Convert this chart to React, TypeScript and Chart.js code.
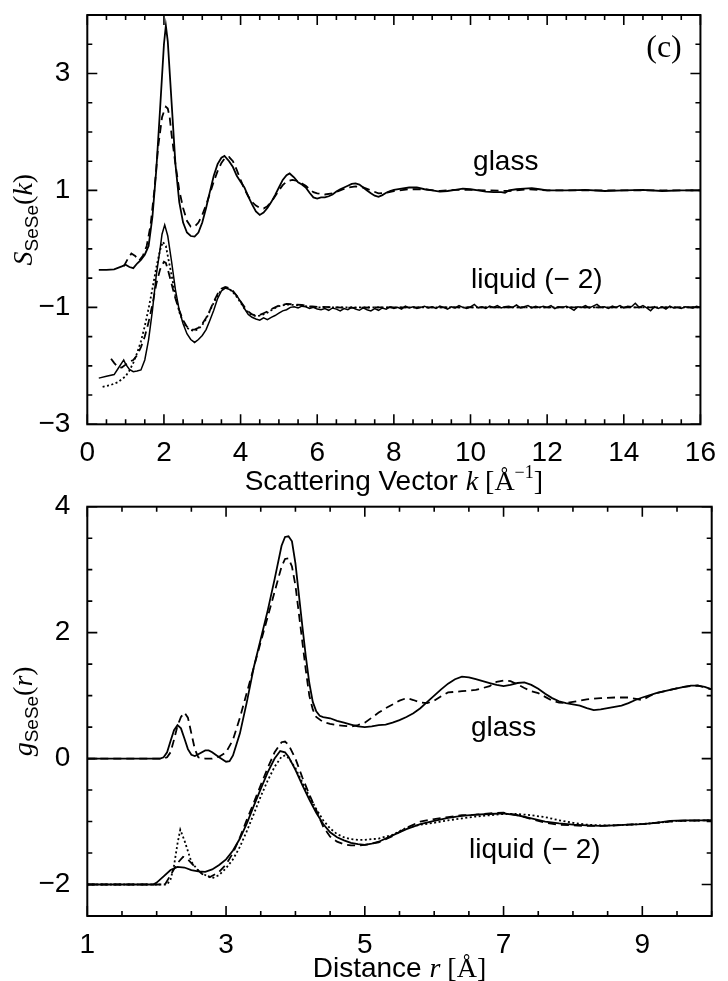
import React, { useEffect, useRef } from "react";
import { Chart, registerables } from "chart.js";
Chart.register(...registerables);

// ---------------- Top panel: S_SeSe(k) ----------------
const K_TICK_LABELS = [0, 2, 4, 6, 8, 10, 12, 14, 16];
const S_TICK_LABELS = [-3, -1, 1, 3];

const K_GLASS_SOLID = [0.3, 0.5, 0.7, 0.9, 1.0, 1.1, 1.2, 1.3, 1.4, 1.5, 1.6, 1.7, 1.8, 1.9, 2.0, 2.05, 2.1, 2.2, 2.3, 2.4, 2.5, 2.6, 2.7, 2.8, 2.9, 3.0, 3.1, 3.2, 3.3, 3.4, 3.5, 3.58, 3.7, 3.8, 3.9, 4.0, 4.1, 4.2, 4.3, 4.4, 4.5, 4.6, 4.7, 4.8, 4.9, 5.0, 5.1, 5.2, 5.28, 5.4, 5.5, 5.6, 5.7, 5.8, 5.9, 6.0, 6.1, 6.2, 6.3, 6.4, 6.5, 6.6, 6.7, 6.8, 6.9, 7.0, 7.1, 7.2, 7.3, 7.4, 7.5, 7.6, 7.7, 7.8, 7.9, 8.0, 8.2, 8.4, 8.6, 8.8, 9.0, 9.2, 9.4, 9.6, 9.8, 10.0, 10.2, 10.4, 10.6, 10.8, 10.9, 11.0, 11.2, 11.4, 11.6, 11.8, 12.0, 12.5, 13.0, 13.5, 14.0, 14.5, 15.0, 15.5, 16.0];
const S_GLASS_SOLID = [-0.36, -0.36, -0.35, -0.30, -0.27, -0.31, -0.33, -0.25, -0.19, -0.10, 0.05, 0.55, 1.35, 2.40, 3.50, 3.82, 3.55, 2.50, 1.45, 0.80, 0.45, 0.28, 0.22, 0.21, 0.28, 0.45, 0.70, 0.98, 1.25, 1.45, 1.56, 1.59, 1.50, 1.40, 1.25, 1.15, 1.05, 0.90, 0.76, 0.64, 0.58, 0.62, 0.70, 0.80, 0.92, 1.05, 1.18, 1.26, 1.29, 1.22, 1.14, 1.10, 1.05, 0.96, 0.88, 0.86, 0.88, 0.88, 0.90, 0.93, 0.98, 1.02, 1.05, 1.08, 1.11, 1.12, 1.10, 1.05, 1.00, 0.95, 0.91, 0.89, 0.92, 0.96, 0.99, 1.01, 1.03, 1.05, 1.05, 1.02, 1.00, 0.98, 0.99, 1.01, 1.03, 1.02, 1.00, 0.98, 0.97, 0.97, 0.96, 1.00, 1.02, 1.03, 1.04, 1.02, 1.00, 1.00, 1.01, 0.99, 1.00, 1.01, 0.99, 1.00, 1.00];

const K_GLASS_DASHED = [0.95, 1.05, 1.15, 1.25, 1.35, 1.45, 1.55, 1.65, 1.75, 1.85, 1.95, 2.0, 2.05, 2.1, 2.15, 2.2, 2.3, 2.4, 2.5, 2.6, 2.7, 2.8, 2.9, 3.0, 3.1, 3.2, 3.3, 3.4, 3.5, 3.6, 3.7, 3.8, 3.9, 4.0, 4.1, 4.2, 4.3, 4.4, 4.5, 4.6, 4.7, 4.8, 4.9, 5.0, 5.1, 5.2, 5.35, 5.5, 5.6, 5.7, 5.8, 5.9, 6.0, 6.2, 6.4, 6.6, 6.8, 7.0, 7.2, 7.4, 7.6, 7.8, 8.0, 8.4, 8.8, 9.2, 9.6, 10.0, 10.5, 11.0, 11.5, 12.0, 13.0, 14.0, 15.0, 16.0];
const S_GLASS_DASHED = [-0.30, -0.18, -0.08, -0.12, -0.20, -0.12, 0.05, 0.40, 1.00, 1.75, 2.25, 2.35, 2.43, 2.40, 2.25, 1.95, 1.45, 1.00, 0.70, 0.48, 0.38, 0.38, 0.45, 0.58, 0.75, 0.95, 1.15, 1.33, 1.47, 1.56, 1.57, 1.50, 1.35, 1.18, 1.02, 0.90, 0.80, 0.74, 0.70, 0.69, 0.73, 0.80, 0.90, 1.00, 1.09, 1.15, 1.18, 1.16, 1.12, 1.08, 1.02, 0.97, 0.95, 0.93, 0.95, 1.00, 1.05, 1.07, 1.05, 1.00, 0.95, 0.96, 0.99, 1.02, 1.02, 0.99, 1.01, 1.01, 1.00, 0.99, 1.02, 1.00, 1.00, 1.00, 1.00, 1.00];

const K_LIQ_SOLID = [0.3, 0.5, 0.7, 0.8, 0.9, 0.95, 1.0, 1.1, 1.2, 1.3, 1.4, 1.5, 1.6, 1.7, 1.8, 1.9, 1.95, 2.02, 2.1, 2.2, 2.3, 2.4, 2.5, 2.6, 2.7, 2.8, 2.9, 3.0, 3.1, 3.2, 3.3, 3.4, 3.5, 3.6, 3.7, 3.8, 3.9, 4.0, 4.1, 4.2, 4.3, 4.4, 4.5, 4.6, 4.7, 4.8, 4.9, 5.0, 5.1, 5.2, 5.3, 5.4, 5.5, 5.6, 5.7, 5.8, 5.9, 6.0,
  6.1, 6.2, 6.3, 6.4, 6.5, 6.6, 6.7, 6.8, 6.9, 7.0, 7.1, 7.2, 7.3, 7.4, 7.5, 7.6, 7.7, 7.8, 7.9, 8.0, 8.1, 8.2, 8.3, 8.4, 8.5, 8.6, 8.7, 8.8, 8.9, 9.0, 9.1, 9.2, 9.3, 9.4, 9.5, 9.6, 9.7, 9.8, 9.9, 10.0,
  10.1, 10.2, 10.3, 10.4, 10.5, 10.6, 10.7, 10.8, 10.9, 11.0, 11.1, 11.2, 11.3, 11.4, 11.5, 11.6, 11.7, 11.8, 11.9, 12.0, 12.1, 12.2, 12.3, 12.4, 12.5, 12.6, 12.7, 12.8, 12.9, 13.0,
  13.1, 13.2, 13.3, 13.4, 13.5, 13.6, 13.7, 13.8, 13.9, 14.0, 14.1, 14.2, 14.3, 14.4, 14.5, 14.6, 14.7, 14.8, 14.9, 15.0, 15.1, 15.2, 15.3, 15.4, 15.5, 15.6, 15.7, 15.8, 15.9, 16.0];
const S_LIQ_SOLID = [-2.21, -2.18, -2.15, -2.05, -1.95, -1.90, -1.97, -2.06, -2.10, -2.09, -2.07, -1.90, -1.55, -1.05, -0.45, 0.00, 0.25, 0.41, 0.22, -0.22, -0.70, -1.05, -1.28, -1.45, -1.55, -1.60, -1.55, -1.48, -1.38, -1.22, -1.05, -0.85, -0.72, -0.67, -0.69, -0.73, -0.80, -0.90, -1.02, -1.12, -1.17, -1.20, -1.22, -1.18, -1.21, -1.17, -1.14, -1.10, -1.06, -1.04, -1.00, -0.99, -1.01, -0.98, -0.99, -1.02, -1.00, -1.03,
  -1.04, -1.02, -1.05, -1.01, -1.03, -1.06, -1.02, -1.04, -1.00, -1.03, -1.05, -1.01, -1.04, -1.06, -1.02, -1.05, -1.01, -1.03, -0.99, -1.02, -1.00, -1.03, -0.98, -1.01, -0.99, -1.02, -1.00, -0.98, -1.01, -0.99, -1.02, -0.98, -1.00, -1.03, -0.99, -1.01, -0.97, -1.00, -1.02, -0.99,
  -0.95, -1.01, -0.99, -1.02, -0.98, -1.00, -0.97, -1.01, -0.99, -0.98, -1.00, -0.96, -1.01, -0.99, -0.97, -1.01, -0.98, -1.00, -0.98, -1.00, -0.97, -1.02, -0.99, -1.00, -0.98, -1.01, -1.05, -0.99, -1.00, -0.97,
  -1.01, -0.98, -0.95, -1.00, -0.99, -1.02, -0.98, -1.00, -0.97, -1.01, -0.98, -0.99, -0.93, -1.00, -0.97, -1.01, -1.06, -0.99, -1.02, -0.99, -1.03, -0.98, -1.01, -1.00, -1.02, -0.99, -1.00, -1.01, -0.98, -1.00];

const K_LIQ_DASHED = [0.62, 0.7, 0.8, 0.9, 1.0, 1.1, 1.2, 1.3, 1.4, 1.5, 1.6, 1.7, 1.8, 1.9, 2.0, 2.05, 2.1, 2.2, 2.3, 2.4, 2.5, 2.6, 2.7, 2.8, 2.9, 3.0, 3.1, 3.2, 3.3, 3.4, 3.5, 3.6, 3.7, 3.8, 3.9, 4.0, 4.1, 4.2, 4.3, 4.4, 4.5, 4.6, 4.7, 4.8, 4.9, 5.0, 5.2, 5.4, 5.6, 5.8, 6.0, 6.5, 7.0, 7.5, 8.0, 9.0, 10.0, 12.0, 14.0, 16.0];
const S_LIQ_DASHED = [-1.88, -1.95, -2.02, -2.03, -1.98, -1.93, -1.90, -1.82, -1.68, -1.50, -1.25, -0.95, -0.60, -0.35, -0.22, -0.24, -0.35, -0.60, -0.85, -1.05, -1.22, -1.33, -1.38, -1.38, -1.35, -1.28, -1.18, -1.05, -0.90, -0.77, -0.68, -0.65, -0.67, -0.72, -0.80, -0.90, -0.99, -1.07, -1.12, -1.14, -1.13, -1.10, -1.07, -1.03, -1.00, -0.97, -0.94, -0.95, -0.96, -0.98, -0.99, -1.00, -1.01, -1.00, -1.00, -1.00, -1.00, -1.00, -1.00, -1.00];

const K_LIQ_DOTTED = [0.4, 0.6, 0.8, 1.0, 1.1, 1.2, 1.3, 1.4, 1.5, 1.6, 1.7, 1.8, 1.9, 1.97, 2.05, 2.1, 2.2, 2.3, 2.4, 2.5, 2.6, 2.7, 2.8, 2.9, 3.0, 3.1, 3.2, 3.3, 3.4, 3.5, 3.6, 3.7, 3.8, 3.9, 4.0, 4.1, 4.2, 4.3, 4.4, 4.5, 4.6, 4.7, 4.8, 4.9, 5.0, 5.2, 5.4, 5.6, 5.8, 6.0, 7.0, 8.0, 9.0, 10.0, 12.0, 14.0, 16.0];
const S_LIQ_DOTTED = [-2.36, -2.33, -2.28, -2.18, -2.08, -1.95, -1.78, -1.58, -1.32, -1.02, -0.68, -0.32, -0.02, 0.12, 0.05, -0.12, -0.45, -0.80, -1.08, -1.25, -1.35, -1.39, -1.40, -1.37, -1.30, -1.20, -1.06, -0.92, -0.80, -0.70, -0.66, -0.68, -0.74, -0.82, -0.92, -1.02, -1.09, -1.13, -1.15, -1.14, -1.12, -1.09, -1.05, -1.01, -0.98, -0.95, -0.96, -0.97, -0.99, -1.00, -1.00, -1.00, -1.00, -1.00, -1.00, -1.00, -1.00];

// ---------------- Bottom panel: g_SeSe(r) ----------------
const R_TICK_LABELS = [1, 3, 5, 7, 9];
const G_TICK_LABELS = [-2, 0, 2, 4];

const R_GLASS_SOLID = [1.0, 2.0, 2.05, 2.1, 2.15, 2.2, 2.25, 2.3, 2.35, 2.4, 2.45, 2.5, 2.55, 2.6, 2.7, 2.75, 2.8, 2.9, 3.0, 3.05, 3.1, 3.2, 3.3, 3.4, 3.5, 3.6, 3.7, 3.8, 3.85, 3.9, 3.95, 4.0, 4.05, 4.1, 4.15, 4.2, 4.25, 4.3, 4.35, 4.4, 4.5, 4.6, 4.7, 4.8, 4.9, 5.0, 5.1, 5.2, 5.3, 5.4, 5.5, 5.6, 5.7, 5.8, 5.9, 6.0, 6.1, 6.2, 6.3, 6.4, 6.5, 6.6, 6.7, 6.8, 6.9, 7.0, 7.1, 7.2, 7.3, 7.4, 7.5, 7.6, 7.7, 7.8, 7.9, 8.0, 8.1, 8.2, 8.3, 8.4, 8.5, 8.6, 8.7, 8.8, 8.9, 9.0, 9.2, 9.4, 9.6, 9.7, 9.8, 9.9, 10.0];
const G_GLASS_SOLID = [0, 0, 0.0, 0.02, 0.10, 0.28, 0.45, 0.53, 0.48, 0.32, 0.15, 0.06, 0.04, 0.07, 0.13, 0.13, 0.10, 0.02, -0.05, -0.04, 0.05, 0.40, 0.90, 1.45, 1.90, 2.35, 2.85, 3.38, 3.52, 3.53, 3.45, 3.10, 2.60, 2.10, 1.62, 1.20, 0.90, 0.75, 0.68, 0.66, 0.64, 0.60, 0.57, 0.54, 0.51, 0.50, 0.51, 0.53, 0.54, 0.57, 0.61, 0.66, 0.72, 0.80, 0.90, 1.00, 1.10, 1.19, 1.26, 1.30, 1.29, 1.26, 1.23, 1.20, 1.17, 1.15, 1.17, 1.20, 1.21, 1.17, 1.11, 1.03, 0.96, 0.91, 0.88, 0.86, 0.84, 0.80, 0.77, 0.78, 0.80, 0.82, 0.84, 0.88, 0.93, 0.97, 1.04, 1.09, 1.14, 1.16, 1.16, 1.14, 1.10];

const R_GLASS_DASHED = [1.0, 2.1, 2.15, 2.2, 2.25, 2.3, 2.35, 2.4, 2.45, 2.5, 2.55, 2.6, 2.7, 2.8, 2.9, 3.0, 3.1, 3.2, 3.3, 3.4, 3.5, 3.6, 3.7, 3.8, 3.85, 3.9, 3.95, 4.0, 4.05, 4.1, 4.15, 4.2, 4.25, 4.3, 4.4, 4.5, 4.6, 4.7, 4.8, 4.9, 5.0, 5.1, 5.2, 5.3, 5.4, 5.5, 5.6, 5.7, 5.8, 5.9, 6.0, 6.1, 6.2, 6.4, 6.6, 6.8, 6.9, 7.0, 7.1, 7.2, 7.3, 7.4, 7.5, 7.6, 7.7, 7.8, 7.9, 8.0, 8.2, 8.4, 8.6, 8.8, 9.0, 9.1, 9.2, 9.4, 9.6, 9.8, 10.0];
const G_GLASS_DASHED = [0, 0, 0.02, 0.10, 0.30, 0.52, 0.66, 0.73, 0.65, 0.40, 0.15, 0.02, 0.0, 0.0, 0.03, 0.10, 0.30, 0.65, 1.05, 1.45, 1.85, 2.25, 2.65, 3.05, 3.17, 3.18, 3.05, 2.75, 2.30, 1.85, 1.40, 1.00, 0.78, 0.66, 0.58, 0.55, 0.53, 0.52, 0.51, 0.53, 0.57, 0.65, 0.73, 0.80, 0.86, 0.92, 0.96, 0.93, 0.89, 0.88, 0.92, 0.99, 1.05, 1.07, 1.09, 1.15, 1.22, 1.24, 1.23, 1.18, 1.12, 1.07, 1.04, 0.98, 0.92, 0.89, 0.88, 0.90, 0.94, 0.96, 0.97, 0.97, 0.93, 0.99, 1.04, 1.09, 1.14, 1.16, 1.10];

const R_LIQ_SOLID = [1.0, 1.95, 2.0, 2.1, 2.2, 2.3, 2.4, 2.5, 2.6, 2.7, 2.8, 2.9, 3.0, 3.1, 3.2, 3.3, 3.4, 3.5, 3.6, 3.7, 3.78, 3.85, 3.9, 4.0, 4.1, 4.2, 4.3, 4.4, 4.5, 4.6, 4.7, 4.8, 4.9, 5.0, 5.1, 5.2, 5.4, 5.6, 5.8, 6.0, 6.2, 6.4, 6.6, 6.8, 7.0, 7.2, 7.4, 7.6, 7.8, 8.0, 8.2, 8.4, 8.6, 8.8, 9.0, 9.2, 9.4, 9.6, 9.8, 10.0];
const G_LIQ_SOLID = [-2, -2, -1.97, -1.87, -1.77, -1.72, -1.73, -1.77, -1.79, -1.80, -1.76, -1.69, -1.60, -1.46, -1.27, -1.03, -0.75, -0.48, -0.22, 0.00, 0.12, 0.10, 0.03, -0.18, -0.42, -0.65, -0.86, -1.04, -1.17, -1.25, -1.30, -1.34, -1.36, -1.37, -1.35, -1.32, -1.22, -1.12, -1.04, -0.99, -0.94, -0.91, -0.89, -0.88, -0.87, -0.90, -0.95, -1.00, -1.03, -1.05, -1.06, -1.07, -1.06, -1.05, -1.04, -1.02, -0.99, -0.98, -0.98, -0.98];

const R_LIQ_DASHED = [1.0, 2.12, 2.2, 2.3, 2.38, 2.45, 2.55, 2.65, 2.77, 2.9, 3.0, 3.1, 3.2, 3.3, 3.4, 3.5, 3.6, 3.7, 3.8, 3.85, 3.9, 4.0, 4.1, 4.2, 4.3, 4.4, 4.5, 4.6, 4.7, 4.8, 4.9, 5.0, 5.2, 5.4, 5.6, 5.8, 6.0, 6.2, 6.4, 6.6, 6.8, 7.0, 7.2, 7.4, 7.6, 7.8, 8.0, 8.2, 8.4, 8.6, 8.8, 9.0, 9.5, 10.0];
const G_LIQ_DASHED = [-2, -2, -1.85, -1.66, -1.56, -1.60, -1.72, -1.83, -1.88, -1.80, -1.68, -1.50, -1.25, -0.97, -0.70, -0.42, -0.15, 0.10, 0.26, 0.27, 0.22, 0.0, -0.30, -0.57, -0.82, -1.08, -1.24, -1.32, -1.36, -1.38, -1.38, -1.37, -1.33, -1.23, -1.10, -1.00, -0.96, -0.93, -0.90, -0.89, -0.87, -0.86, -0.90, -0.96, -1.02, -1.05, -1.06, -1.07, -1.07, -1.06, -1.05, -1.04, -0.99, -0.98];

const R_LIQ_DOTTED = [1.0, 2.15, 2.2, 2.25, 2.3, 2.34, 2.4, 2.5, 2.6, 2.7, 2.8, 2.9, 3.0, 3.1, 3.2, 3.3, 3.4, 3.5, 3.6, 3.7, 3.8, 3.85, 3.9, 4.0, 4.1, 4.2, 4.3, 4.4, 4.5, 4.6, 4.7, 4.8, 4.9, 5.0, 5.2, 5.4, 5.6, 5.8, 6.0, 6.2, 6.4, 6.6, 6.8, 7.0, 7.2, 7.4, 7.6, 7.8, 8.0, 8.2, 8.4, 8.6, 8.8, 9.0, 9.5, 10.0];
const G_LIQ_DOTTED = [-2, -2, -1.92, -1.70, -1.35, -1.13, -1.30, -1.64, -1.78, -1.85, -1.90, -1.85, -1.74, -1.60, -1.40, -1.15, -0.88, -0.60, -0.35, -0.13, 0.03, 0.05, 0.01, -0.15, -0.38, -0.60, -0.80, -0.98, -1.11, -1.20, -1.25, -1.28, -1.29, -1.29, -1.27, -1.21, -1.10, -1.05, -1.02, -0.98, -0.95, -0.92, -0.90, -0.88, -0.88, -0.90, -0.93, -0.98, -1.02, -1.05, -1.06, -1.06, -1.05, -1.04, -0.99, -0.98];

// ---------------- helpers ----------------
const SANS = '"Liberation Sans", Arial, Helvetica, sans-serif';
const SERIF = '"Liberation Serif", "Times New Roman", serif';
const TICK_FONT = 28;

type Seg = { t: string; font: string; dy?: number };

function pts(xs: number[], ys: number[]) {
  return xs.map((x, i) => ({ x, y: ys[i] }));
}

function drawRich(ctx: CanvasRenderingContext2D, segs: Seg[], x: number, y: number) {
  let total = 0;
  for (const s of segs) {
    ctx.font = s.font;
    total += ctx.measureText(s.t).width;
  }
  let cx = x - total / 2;
  ctx.textAlign = "left";
  ctx.textBaseline = "alphabetic";
  for (const s of segs) {
    ctx.font = s.font;
    ctx.fillText(s.t, cx, y + (s.dy || 0));
    cx += ctx.measureText(s.t).width;
  }
}

type LabelSpec = { segs: Seg[]; x: number; y: number };
type PanelSpec = {
  xMajor: number[];
  yMajor: number[];
  labels: LabelSpec[]; // positioned in data coordinates
  xTitle: { segs: Seg[]; py: number }; // py: pixels below chart area bottom
  yTitle: { segs: Seg[]; px: number };
};

function makeFramePlugin(spec: PanelSpec) {
  return {
    id: "frameAndText",
    afterDraw(chart: any) {
      const { ctx, chartArea: a, scales } = chart;
      const xs = scales.x;
      const ys = scales.y;
      ctx.save();
      ctx.strokeStyle = "#000";
      ctx.fillStyle = "#000";
      ctx.lineWidth = 1.6;
      ctx.beginPath();
      for (const t of xs.ticks) {
        const px = xs.getPixelForValue(t.value);
        const len = spec.xMajor.includes(t.value) ? 10 : 5;
        ctx.moveTo(px, a.bottom);
        ctx.lineTo(px, a.bottom - len);
        ctx.moveTo(px, a.top);
        ctx.lineTo(px, a.top + len);
      }
      for (const t of ys.ticks) {
        const py = ys.getPixelForValue(t.value);
        const len = spec.yMajor.includes(t.value) ? 10 : 5;
        ctx.moveTo(a.left, py);
        ctx.lineTo(a.left + len, py);
        ctx.moveTo(a.right, py);
        ctx.lineTo(a.right - len, py);
      }
      ctx.stroke();
      ctx.lineWidth = 2;
      ctx.strokeRect(a.left, a.top, a.right - a.left, a.bottom - a.top);

      for (const l of spec.labels) {
        drawRich(ctx, l.segs, xs.getPixelForValue(l.x), ys.getPixelForValue(l.y));
      }
      // x title
      drawRich(ctx, spec.xTitle.segs, (a.left + a.right) / 2, a.bottom + spec.xTitle.py);
      // y title (rotated)
      ctx.save();
      ctx.translate(spec.yTitle.px, (a.top + a.bottom) / 2);
      ctx.rotate(-Math.PI / 2);
      drawRich(ctx, spec.yTitle.segs, 0, 0);
      ctx.restore();
      ctx.restore();
    },
  };
}

function line(data: { x: number; y: number }[], dash: number[], width = 1.8) {
  return {
    data,
    borderColor: "#000",
    backgroundColor: "#000",
    borderWidth: width,
    borderDash: dash,
    pointRadius: 0,
    tension: 0,
    fill: false,
  };
}

function buildConfig(
  datasets: any[],
  xr: [number, number],
  yr: [number, number],
  xLabels: number[],
  yLabels: number[],
  pad: { top: number; right: number },
  xHeight: number,
  yWidth: number,
  spec: PanelSpec
) {
  return {
    type: "line",
    data: { datasets },
    options: {
      animation: false,
      responsive: false,
      events: [],
      layout: { padding: { top: pad.top, right: pad.right, bottom: 0, left: 0 } },
      plugins: { legend: { display: false }, tooltip: { enabled: false } },
      scales: {
        x: {
          type: "linear",
          min: xr[0],
          max: xr[1],
          grid: { display: false, drawTicks: false },
          border: { display: false },
          ticks: {
            stepSize: 0.5,
            autoSkip: false,
            maxRotation: 0,
            padding: 12,
            color: "#000",
            font: { family: SANS, size: TICK_FONT },
            callback: (v: number) => (xLabels.includes(v) ? String(v) : ""),
          },
          afterFit: (s: any) => {
            s.height = xHeight;
          },
        },
        y: {
          type: "linear",
          min: yr[0],
          max: yr[1],
          grid: { display: false, drawTicks: false },
          border: { display: false },
          ticks: {
            stepSize: 0.5,
            autoSkip: false,
            padding: 17,
            color: "#000",
            font: { family: SANS, size: TICK_FONT },
            callback: (v: number) =>
              yLabels.includes(v) ? (v < 0 ? "\u2212" + String(-v) : String(v)) : "",
          },
          afterFit: (s: any) => {
            s.width = yWidth;
          },
        },
      },
    },
    plugins: [makeFramePlugin(spec)],
  };
}

const LBL = `${TICK_FONT}px ${SANS}`;

export default function App() {
  const topRef = useRef<HTMLCanvasElement>(null);
  const botRef = useRef<HTMLCanvasElement>(null);

  useEffect(() => {
    const topSpec: PanelSpec = {
      xMajor: K_TICK_LABELS,
      yMajor: S_TICK_LABELS,
      labels: [
        { segs: [{ t: "glass", font: LBL }], x: 10.92, y: 1.35 },
        { segs: [{ t: "liquid (\u2212 2)", font: LBL }], x: 11.73, y: -0.67 },
        { segs: [{ t: "(c)", font: `32px ${SERIF}` }], x: 15.05, y: 3.29 },
      ],
      xTitle: {
        py: 66,
        segs: [
          { t: "Scattering Vector ", font: LBL },
          { t: "k", font: `italic 28px ${SERIF}` },
          { t: " [\u00C5", font: `28px ${SERIF}` },
          { t: "\u22121", font: `18px ${SERIF}`, dy: -12 },
          { t: "]", font: `28px ${SERIF}` },
        ],
      },
      yTitle: {
        px: 32,
        segs: [
          { t: "S", font: `italic 28px ${SERIF}` },
          { t: "SeSe", font: `19px ${SANS}`, dy: 6 },
          { t: "(", font: `28px ${SERIF}` },
          { t: "k", font: `italic 28px ${SERIF}` },
          { t: ")", font: `28px ${SERIF}` },
        ],
      },
    };
    const botSpec: PanelSpec = {
      xMajor: R_TICK_LABELS,
      yMajor: G_TICK_LABELS,
      labels: [
        { segs: [{ t: "glass", font: LBL }], x: 7.0, y: 0.36 },
        { segs: [{ t: "liquid (\u2212 2)", font: LBL }], x: 7.45, y: -1.58 },
      ],
      xTitle: {
        py: 61,
        segs: [
          { t: "Distance ", font: LBL },
          { t: "r", font: `italic 28px ${SERIF}` },
          { t: " [\u00C5]", font: `28px ${SERIF}` },
        ],
      },
      yTitle: {
        px: 32,
        segs: [
          { t: "g", font: `italic 28px ${SERIF}` },
          { t: "SeSe", font: `19px ${SANS}`, dy: 6 },
          { t: "(", font: `28px ${SERIF}` },
          { t: "r", font: `italic 28px ${SERIF}` },
          { t: ")", font: `28px ${SERIF}` },
        ],
      },
    };

    const topCfg: any = buildConfig(
      [
        line(pts(K_GLASS_SOLID, S_GLASS_SOLID), []),
        line(pts(K_GLASS_DASHED, S_GLASS_DASHED), [8, 5]),
        line(pts(K_LIQ_SOLID, S_LIQ_SOLID), [], 1.5),
        line(pts(K_LIQ_DASHED, S_LIQ_DASHED), [8, 5]),
        line(pts(K_LIQ_DOTTED, S_LIQ_DOTTED), [2, 2.5]),
      ],
      [0, 16],
      [-3, 4],
      K_TICK_LABELS,
      S_TICK_LABELS,
      { top: 35, right: 16.3 },
      75.7,
      87.3,
      topSpec
    );
    const botCfg: any = buildConfig(
      [
        line(pts(R_GLASS_SOLID, G_GLASS_SOLID), []),
        line(pts(R_GLASS_DASHED, G_GLASS_DASHED), [8, 5]),
        line(pts(R_LIQ_SOLID, G_LIQ_SOLID), []),
        line(pts(R_LIQ_DASHED, G_LIQ_DASHED), [8, 5]),
        line(pts(R_LIQ_DOTTED, G_LIQ_DOTTED), [2, 2.5]),
      ],
      [1, 10],
      [-2.5, 4],
      R_TICK_LABELS,
      G_TICK_LABELS,
      { top: 36.7, right: 16.3 },
      65,
      87.3,
      botSpec
    );

    const c1 = new Chart(topRef.current as HTMLCanvasElement, topCfg);
    const c2 = new Chart(botRef.current as HTMLCanvasElement, botCfg);
    return () => {
      c1.destroy();
      c2.destroy();
    };
  }, []);

  return (
    <div style={{ position: "absolute", left: 0, top: 0, width: 728, height: 981, overflow: "hidden", background: "#fff" }}>
      <canvas
        ref={topRef}
        width={728}
        height={520}
        style={{ position: "absolute", left: 0, top: -20, width: 728, height: 520 }}
      />
      <canvas
        ref={botRef}
        width={728}
        height={511}
        style={{ position: "absolute", left: 0, top: 470, width: 728, height: 511 }}
      />
    </div>
  );
}
